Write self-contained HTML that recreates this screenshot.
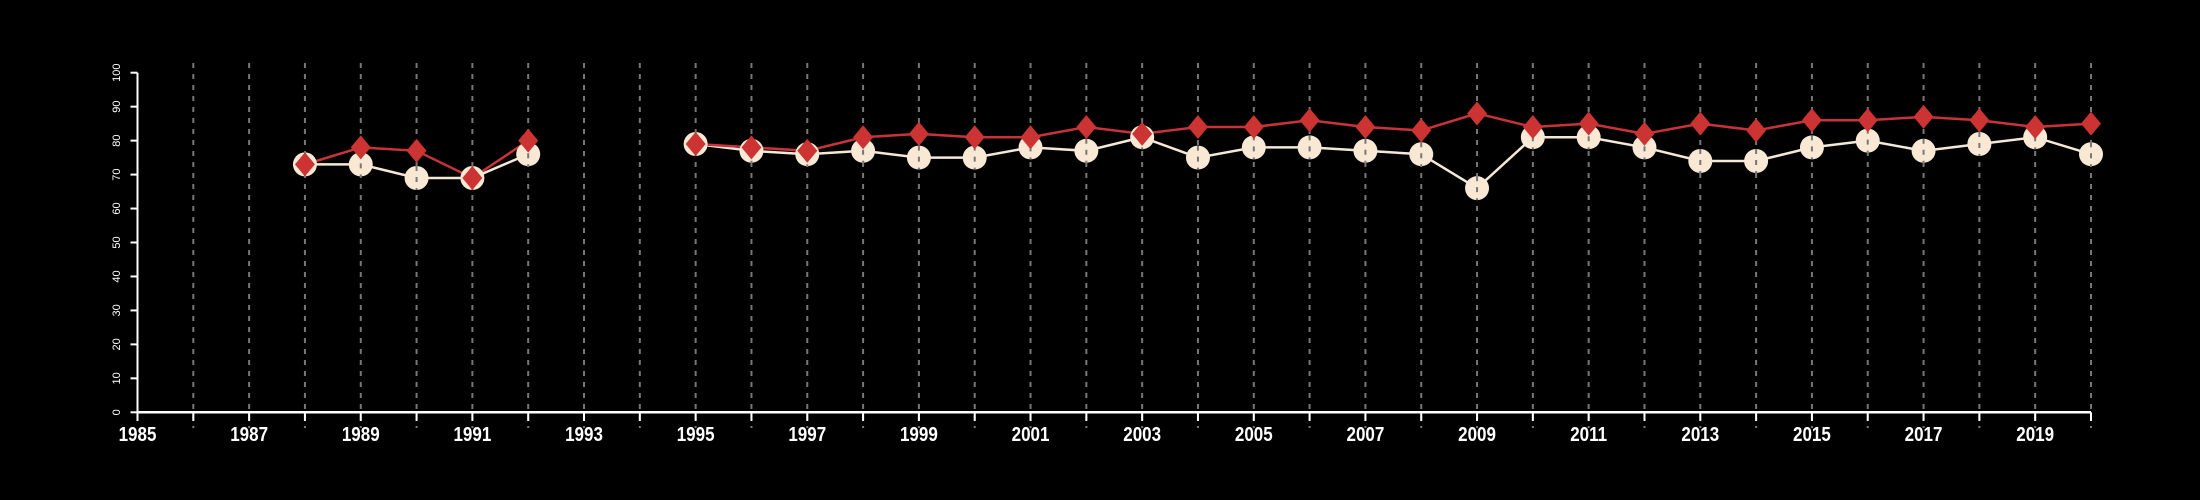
<!DOCTYPE html>
<html><head><meta charset="utf-8"><style>
html,body{margin:0;padding:0;background:#000;}
svg{display:block;}
</style></head><body>
<svg id="chart" width="2200" height="500" xmlns="http://www.w3.org/2000/svg">
<rect width="2200" height="500" fill="#000"/>
<g id="grid"></g><g id="axes"></g><g id="series"></g>
</svg>
<script>
const years = [1988,1989,1990,1991,1992,1995,1996,1997,1998,1999,2000,2001,2002,2003,2004,2005,2006,2007,2008,2009,2010,2011,2012,2013,2014,2015,2016,2017,2018,2019,2020];
const redValues = [73,78,77,69,80,79,78,77,81,82,81,81,84,82,84,84,86,84,83,88,84,85,82,85,83,86,86,87,86,84,85];
const creamValues = [73,73,69,69,76,79,77,76,77,75,75,78,77,81,75,78,78,77,76,66,81,81,78,74,74,78,80,77,79,81,76];
const yTicks = [0,10,20,30,40,50,60,70,80,90,100];
const xLabelYears = [1985,1987,1989,1991,1993,1995,1997,1999,2001,2003,2005,2007,2009,2011,2013,2015,2017,2019];

const NS='http://www.w3.org/2000/svg';
const x0=137.5,x1=2091,y0=412.3,y1=72.7;
const xs=y=>x0+(y-1985)*(x1-x0)/35;
const ys=v=>y0-(v)*(y0-y1)/100;
function mk(tag,attrs,parent){const e=document.createElementNS(NS,tag);for(const k in attrs)e.setAttribute(k,attrs[k]);parent.appendChild(e);return e;}
const grid=document.getElementById('grid'),axes=document.getElementById('axes'),series=document.getElementById('series');

for(let yr=1986;yr<=2020;yr++){
  const l=mk('line',{x1:xs(yr),x2:xs(yr),y1:63,y2:428,stroke:'#777','stroke-width':2,'stroke-dasharray':'5,6'},grid);
  
  
}
const xa=mk('line',{x1:x0,x2:x1,y1:y0,y2:y0,stroke:'#fff','stroke-width':2.5},axes);


const ya=mk('line',{x1:x0,x2:x0,y1:y0,y2:y1,stroke:'#fff','stroke-width':2},axes);


for(let yr=1985;yr<=2020;yr++){
  const t=mk('line',{x1:xs(yr),x2:xs(yr),y1:y0,y2:421,stroke:'#fff','stroke-width':2},axes);
  
  
}
xLabelYears.forEach(yr=>{
  const t=mk('text',{x:xs(yr),y:441,fill:'#fff','font-family':'Liberation Sans, sans-serif','font-size':20,'font-weight':'bold','text-anchor':'middle',transform:`translate(${xs(yr)},0) scale(0.85,1) translate(${-xs(yr)},0)`},axes);
  t.textContent=yr;
  
  
});
yTicks.forEach(v=>{
  const t=mk('line',{x1:x0-7,x2:x0,y1:ys(v),y2:ys(v),stroke:'#fff','stroke-width':2},axes);
  
  
  const lb=mk('text',{x:0,y:0,fill:'#fff','font-family':'Liberation Sans, sans-serif','font-size':11,'text-anchor':'middle',transform:`translate(120,${ys(v)}) rotate(-90)`},axes);
  lb.textContent=v;
  
  
});
function segs(vals){const out=[];let cur=[];years.forEach((yr,i)=>{if(i>0&&yr-years[i-1]>1){out.push(cur);cur=[];}cur.push([xs(yr),ys(vals[i])]);});out.push(cur);return out;}
segs(creamValues).forEach(s=>{
  const p=mk('polyline',{points:s.map(q=>q.join(',')).join(' '),fill:'none',stroke:'#f5e8d6','stroke-width':2.5},series);
  
  
});
segs(redValues).forEach(s=>{
  const p=mk('polyline',{points:s.map(q=>q.join(',')).join(' '),fill:'none',stroke:'#c8333a','stroke-width':2.5},series);
  
  
});
years.forEach((yr,i)=>{
  const c=mk('circle',{cx:xs(yr),cy:ys(creamValues[i]),r:12,fill:'#f8e8d4'},series);
  
  
  mk('line',{x1:xs(yr),x2:xs(yr),y1:ys(creamValues[i])-12,y2:ys(creamValues[i])+12,stroke:'#777','stroke-width':2,'stroke-dasharray':'5,6'},series);
});
years.forEach((yr,i)=>{
  const x=xs(yr),y=ys(redValues[i]);
  const d=mk('polygon',{points:`${x},${y-12} ${x+10},${y} ${x},${y+12} ${x-10},${y}`,fill:'#cc3333'},series);
  
  
});
</script>
</body></html>
